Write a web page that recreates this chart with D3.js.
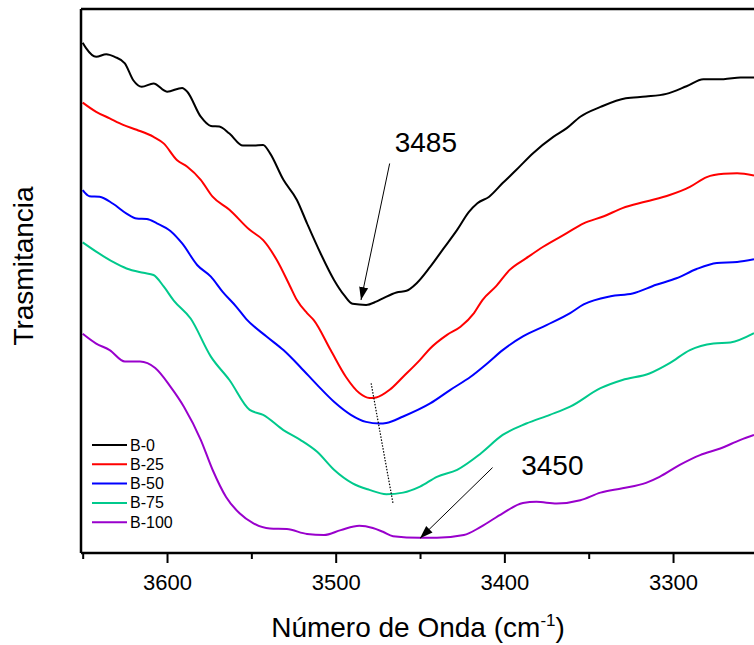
<!DOCTYPE html>
<html>
<head>
<meta charset="utf-8">
<script src="https://cdn.jsdelivr.net/npm/d3@7"></script>
<style>
  html, body { margin: 0; padding: 0; background: #fff; }
  svg { display: block; font-family: "Liberation Sans", Arial, sans-serif; }
</style>
</head>
<body>
<svg id="chart" width="754" height="645"></svg>
<script>
// FTIR spectra, O–H stretching region (wavenumber in cm-1, transmittance in arbitrary offset units)
const seriesNames = ["B-0", "B-25", "B-50", "B-75", "B-100"];
const seriesColors = ["#000000", "#ff0000", "#0000ff", "#00c98c", "#9900cc"];

const waveB0 = [3650,3648,3642,3636,3631,3625,3620,3615,3608,3600,3591,3588,3580,3574,3569,3563,3555,3549,3543,3539,3531,3523,3517,3509,3501,3495,3490,3482,3476,3472,3464,3458,3452,3444,3436,3428,3421,3416,3409,3401,3393,3383,3371,3363,3355,3343,3328,3316,3304,3292,3282,3270,3260,3252];
const transB0 = [93.8,92.8,91.2,91.7,91.2,90.0,86.9,85.7,86.3,84.8,85.5,84.8,80.2,78.5,78.4,77.1,74.9,74.9,75.0,73.5,68.6,64.9,60.6,55.1,50.2,47.4,45.8,45.6,46.2,46.8,47.9,48.2,49.6,52.6,56.0,59.4,62.7,64.3,65.5,68.0,70.4,73.5,76.5,78.1,80.2,82.0,83.6,83.9,84.4,85.8,87.1,87.1,87.4,87.4];

const waveB25 = [3650,3642,3634,3626,3618,3608,3602,3594,3588,3580,3573,3563,3551,3543,3535,3527,3523,3517,3513,3503,3494,3486,3480,3476,3468,3460,3450,3444,3434,3426,3418,3413,3405,3397,3387,3377,3363,3353,3341,3330,3316,3302,3290,3280,3270,3262,3252];
const transB25 = [82.8,81.1,79.9,78.7,77.8,76.5,75.3,72.2,71.0,68.6,65.5,63.1,59.4,57.5,53.9,49.0,46.5,44.1,42.8,37.3,32.4,29.4,28.5,28.6,30.0,32.4,35.5,37.6,40.1,41.6,44.1,46.5,49.0,52.0,54.2,56.3,58.8,60.6,61.9,63.4,64.6,65.8,67.3,69.1,69.7,69.8,69.4];

const waveB50 = [3650,3646,3640,3632,3624,3618,3612,3606,3598,3591,3582,3574,3567,3559,3553,3541,3531,3521,3511,3501,3491,3482,3474,3470,3460,3444,3432,3420,3410,3401,3389,3375,3361,3353,3337,3324,3310,3298,3286,3274,3262,3252];
const transB50 = [66.7,65.6,65.5,64.2,62.4,61.5,61.4,60.6,59.2,56.9,52.9,50.8,48.0,45.3,43.0,39.8,37.3,34.2,30.9,27.8,25.4,24.1,23.8,23.9,25.1,27.5,30.0,32.4,34.9,37.3,39.8,41.9,44.1,45.7,47.2,47.7,49.3,50.5,52.2,53.3,53.5,54.0];

const waveB75 = [3650,3642,3632,3624,3614,3608,3602,3596,3586,3574,3563,3551,3543,3531,3521,3511,3501,3490,3480,3470,3460,3450,3440,3428,3414,3401,3387,3373,3361,3343,3330,3314,3302,3290,3276,3266,3252];
const transB75 = [57.1,55.4,53.5,52.3,51.5,51.1,49.0,46.4,43.1,36.1,31.8,26.3,25.4,22.6,20.8,18.6,15.3,12.8,11.6,10.8,11.1,12.2,14.0,15.3,18.3,21.7,23.8,25.4,26.9,30.3,31.8,33.0,34.9,37.3,38.5,38.7,40.4];

const waveB100 = [3650,3642,3634,3625,3616,3607,3598,3590,3580,3573,3565,3557,3549,3539,3529,3517,3507,3497,3486,3478,3472,3466,3450,3440,3424,3414,3401,3389,3381,3369,3355,3343,3330,3316,3308,3296,3284,3272,3260,3252];
const transB100 = [40.3,38.5,37.3,35.2,35.2,34.0,30.6,26.9,20.8,15.3,10.3,7.3,5.5,4.5,4.4,3.5,3.3,4.2,5.0,4.6,3.9,3.1,2.8,2.8,3.3,4.8,7.3,9.2,9.4,9.1,9.7,11.1,11.9,12.9,14.0,16.2,18.0,19.2,20.8,21.7];

const waveData = [waveB0, waveB25, waveB50, waveB75, waveB100];
const transData = [transB0, transB25, transB50, transB75, transB100];

const majorTicks = [3600, 3500, 3400, 3300];
const minorTicks = [3650, 3550, 3450, 3350];

// Peak annotations: label text, label position, arrow tail, arrow tip (data units)
const peakLabels = ["3485", "3450"];
const peakLabelAt = [[3465, 73.8], [3390, 14.3]];
const peakArrowFrom = [[3468, 71.6], [3407, 15.7]];
const peakArrowTo = [[3485, 46.5], [3450, 2.7]];
// Dotted guide following the shift of the band minimum
const shiftGuide = [[3479, 31.2], [3466, 9.1]];

const svg = d3.select("#chart");
const plotLeft = 81, plotRight = 754, plotTop = 9, plotBottom = 553;

const x = d3.scaleLinear().domain([3651, 3252]).range([plotLeft, plotRight]);
const y = d3.scaleLinear().domain([0, 100]).range([plotBottom, plotTop]);

const defs = svg.append("defs");
defs.append("clipPath").attr("id", "plotClip")
  .append("rect").attr("x", plotLeft).attr("y", plotTop - 2)
  .attr("width", plotRight - plotLeft + 2).attr("height", plotBottom - plotTop + 2);

defs.append("marker")
  .attr("id", "arrowHead").attr("viewBox", "0 0 10 10")
  .attr("refX", 10).attr("refY", 5)
  .attr("markerWidth", 13).attr("markerHeight", 13)
  .attr("markerUnits", "userSpaceOnUse")
  .attr("orient", "auto")
  .append("path").attr("d", "M0,1.5 L10,5 L0,8.5 Z").attr("fill", "#000");

const line = d3.line()
  .x(d => x(d[0]))
  .y(d => y(d[1]))
  .curve(d3.curveMonotoneX);

const curves = svg.append("g").attr("clip-path", "url(#plotClip)");
seriesNames.forEach((name, i) => {
  const pts = waveData[i].map((w, j) => [w, transData[i][j]]);
  curves.append("path")
    .datum(pts)
    .attr("d", line)
    .attr("fill", "none")
    .attr("stroke", seriesColors[i])
    .attr("stroke-width", 2)
    .attr("stroke-linejoin", "round");
});

// Frame: left axis, top border, bottom axis
svg.append("line").attr("x1", plotLeft).attr("x2", plotLeft).attr("y1", plotTop).attr("y2", plotBottom)
  .attr("stroke", "#000").attr("stroke-width", 2.5);
svg.append("line").attr("x1", plotLeft).attr("x2", plotRight).attr("y1", plotTop).attr("y2", plotTop)
  .attr("stroke", "#000").attr("stroke-width", 2.5);

const xAxis = svg.append("g").attr("transform", `translate(0,${plotBottom})`)
  .call(d3.axisBottom(x).tickValues(majorTicks).tickFormat(d3.format("d"))
    .tickSize(10).tickPadding(11).tickSizeOuter(0));
xAxis.select(".domain").attr("stroke-width", 2.5).attr("d", `M${plotLeft},0H${plotRight}`);
xAxis.selectAll(".tick line").attr("stroke-width", 2);
xAxis.selectAll(".tick text")
  .attr("font-family", "'Liberation Sans', Arial, sans-serif")
  .attr("font-size", 22).attr("fill", "#000");

svg.append("g").attr("transform", `translate(0,${plotBottom})`)
  .call(d3.axisBottom(x).tickValues(minorTicks).tickSize(6).tickFormat(""))
  .call(g => g.select(".domain").remove())
  .selectAll(".tick line").attr("stroke-width", 2);

// Axis titles
const xTitle = svg.append("text")
  .attr("x", 418).attr("y", 637)
  .attr("text-anchor", "middle")
  .attr("font-size", 28).attr("fill", "#000");
xTitle.append("tspan").text("Número de Onda (cm");
xTitle.append("tspan").attr("font-size", 17).attr("dy", -11).text("-1");
xTitle.append("tspan").attr("dy", 11).text(")");

svg.append("text")
  .attr("transform", "translate(33,266) rotate(-90)")
  .attr("text-anchor", "middle")
  .attr("font-size", 28).attr("fill", "#000")
  .text("Trasmitancia");

// Legend
const legend = svg.append("g");
seriesNames.forEach((name, i) => {
  const ly = 445 + i * 19.3;
  legend.append("line").attr("x1", 92).attr("x2", 127).attr("y1", ly).attr("y2", ly)
    .attr("stroke", seriesColors[i]).attr("stroke-width", 2);
  legend.append("text").attr("x", 130).attr("y", ly + 5.5)
    .attr("font-size", 16).attr("fill", "#000").text(name);
});

// Annotations
peakLabels.forEach((lab, i) => {
  svg.append("line")
    .attr("x1", x(peakArrowFrom[i][0])).attr("y1", y(peakArrowFrom[i][1]))
    .attr("x2", x(peakArrowTo[i][0])).attr("y2", y(peakArrowTo[i][1]))
    .attr("stroke", "#000").attr("stroke-width", 1)
    .attr("marker-end", "url(#arrowHead)");
  svg.append("text")
    .attr("x", x(peakLabelAt[i][0])).attr("y", y(peakLabelAt[i][1]))
    .attr("font-size", 28).attr("fill", "#000").text(lab);
});

svg.append("line")
  .attr("x1", x(shiftGuide[0][0])).attr("y1", y(shiftGuide[0][1]))
  .attr("x2", x(shiftGuide[1][0])).attr("y2", y(shiftGuide[1][1]))
  .attr("stroke", "#000").attr("stroke-width", 1.2)
  .attr("stroke-dasharray", "1.5,1.5");
</script>
</body>
</html>
